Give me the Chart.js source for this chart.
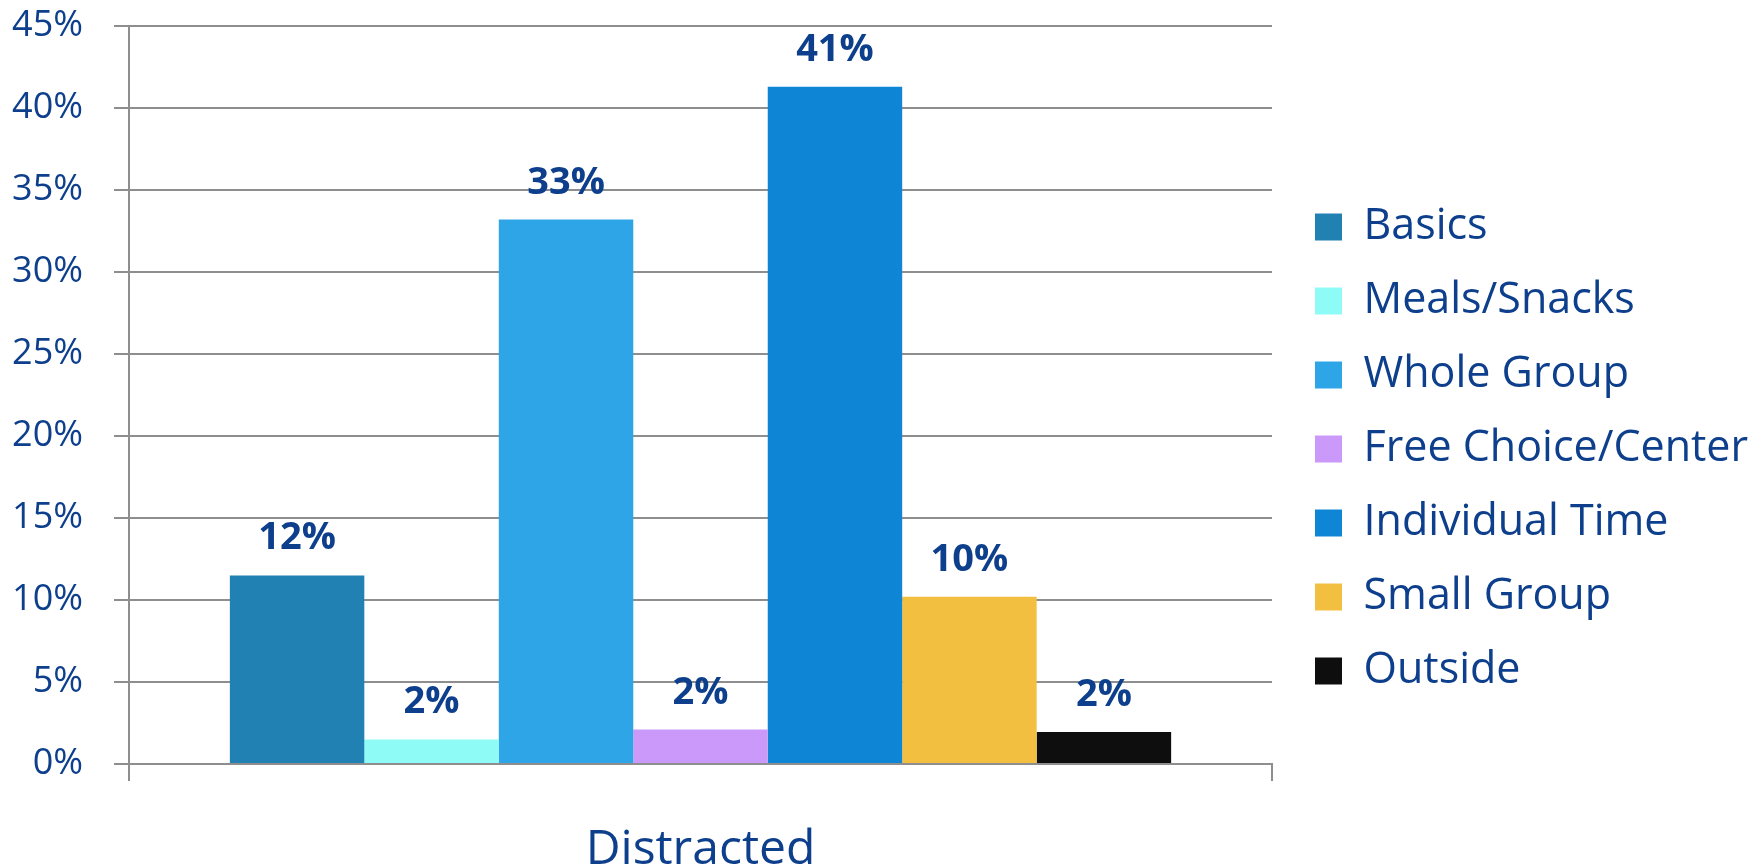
<!DOCTYPE html>
<html>
<head>
<meta charset="utf-8">
<title>Distracted</title>
<script src="https://cdn.jsdelivr.net/npm/chart.js@4.4.1/dist/chart.umd.min.js"></script>
<style>
  html, body { margin: 0; padding: 0; background: #ffffff; }
  canvas { display: block; }
</style>
</head>
<body>
<canvas id="chart" width="1763" height="868"></canvas>
<script>
// Category and series values (percent)
const categories = ['Distracted'];
const seriesNames = ['Basics', 'Meals/Snacks', 'Whole Group', 'Free Choice/Center', 'Individual Time', 'Small Group', 'Outside'];
const basics = [11.5];
const mealsSnacks = [1.5];
const wholeGroup = [33.2];
const freeChoiceCenter = [2.1];
const individualTime = [41.3];
const smallGroup = [10.2];
const outside = [1.95];
const seriesValues = [basics, mealsSnacks, wholeGroup, freeChoiceCenter, individualTime, smallGroup, outside];
const seriesColors = ['#2181B3', '#8EFBF7', '#2DA5E7', '#CA99FA', '#0F86D5', '#F3BF40', '#0E0E0E'];
const yTickValues = [0, 5, 10, 15, 20, 25, 30, 35, 40, 45];

const TEXT = '#0D3F8C';
const GRID = '#8E8E8E';
const FONT = '"Open Sans", "Noto Sans", sans-serif';

// Value labels above each bar
const valueLabels = {
  id: 'valueLabels',
  afterDatasetsDraw(chart) {
    const ctx = chart.ctx;
    ctx.save();
    ctx.font = 'bold 38px ' + FONT;
    ctx.fillStyle = TEXT;
    ctx.textAlign = 'center';
    ctx.textBaseline = 'alphabetic';
    chart.data.datasets.forEach((ds, i) => {
      chart.getDatasetMeta(i).data.forEach((bar, j) => {
        ctx.fillText(Math.round(ds.data[j]) + '%', bar.x, bar.y - 26);
      });
    });
    ctx.restore();
  }
};

// Fixed legend column width and placement
const legendPlacement = {
  id: 'legendPlacement',
  beforeLayout(chart) {
    const lg = chart.legend;
    if (lg && !lg._fixedFit) {
      const fit = lg.fit;
      lg.fit = function () { fit.call(this); this.width = 1763 - 1272; };
      lg._fixedFit = true;
    }
  },
  afterLayout(chart) {
    const lg = chart.legend;
    if (lg) {
      lg.left += 12;
      lg.top += 15;
      lg.bottom += 15;
    }
  }
};

new Chart(document.getElementById('chart'), {
  type: 'bar',
  data: {
    labels: categories,
    datasets: seriesNames.map((name, i) => ({
      label: name,
      data: seriesValues[i],
      backgroundColor: seriesColors[i],
      borderWidth: 0,
      barPercentage: 1.0,
      categoryPercentage: 7 / 8.5
    }))
  },
  options: {
    responsive: false,
    animation: false,
    devicePixelRatio: 1,
    layout: { padding: 0 },
    plugins: {
      title: { display: false },
      tooltip: { enabled: false },
      legend: {
        position: 'right',
        align: 'center',
        labels: {
          boxWidth: 27,
          boxHeight: 27,
          padding: 31,
          color: TEXT,
          font: { family: FONT, size: 43 }
        }
      }
    },
    scales: {
      x: {
        offset: true,
        grid: {
          offset: true,
          drawOnChartArea: false,
          drawTicks: true,
          tickLength: 17,
          color: GRID,
          lineWidth: 2
        },
        border: { display: true, color: GRID, width: 2 },
        ticks: {
          color: TEXT,
          font: { family: FONT, size: 48 },
          padding: 41
        },
        afterFit(scale) { scale.height = 104; }
      },
      y: {
        min: 0,
        max: 45,
        afterBuildTicks(scale) { scale.ticks = yTickValues.map(v => ({ value: v })); },
        grid: {
          color: GRID,
          lineWidth: 2,
          drawTicks: true,
          tickLength: 15
        },
        border: { display: true, color: GRID, width: 2 },
        ticks: {
          color: TEXT,
          font: { family: FONT, size: 36 },
          padding: 31,
          callback: v => v + '%'
        },
        afterFit(scale) {
          scale.width = 129;
          scale.paddingTop = 26;
          scale.paddingBottom = 0;
        }
      }
    }
  },
  plugins: [valueLabels, legendPlacement]
});
</script>
</body>
</html>
